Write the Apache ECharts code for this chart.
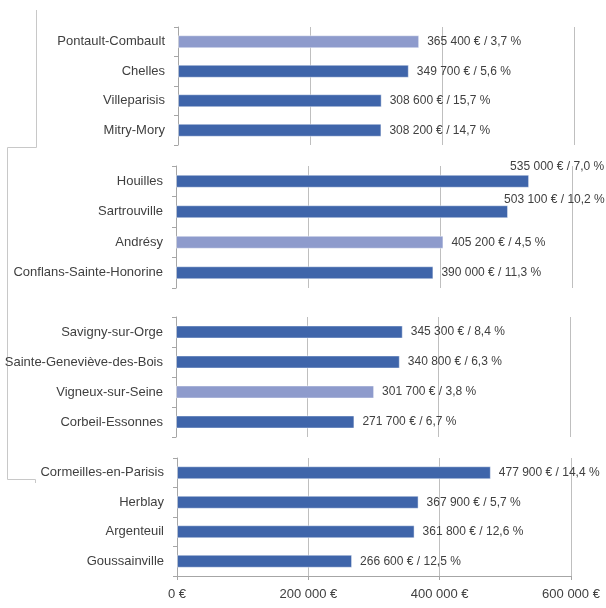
<!DOCTYPE html>
<html>
<head>
<meta charset="utf-8">
<script src="https://cdn.jsdelivr.net/npm/echarts@6/dist/echarts.min.js"></script>
<style>
html,body{margin:0;padding:0;background:#fff;}
#chart{width:606px;height:608px;}
</style>
</head>
<body>
<div id="chart"></div>
<script>
// ---- Data ----
const cities1 = ['Pontault-Combault', 'Chelles', 'Villeparisis', 'Mitry-Mory'];
const prices1 = [365400, 349700, 308600, 308200];
const rates1 = [3.7, 5.6, 15.7, 14.7];

const cities2 = ['Houilles', 'Sartrouville', 'Andrésy', 'Conflans-Sainte-Honorine'];
const prices2 = [535000, 503100, 405200, 390000];
const rates2 = [7.0, 10.2, 4.5, 11.3];

const cities3 = ['Savigny-sur-Orge', 'Sainte-Geneviève-des-Bois', 'Vigneux-sur-Seine', 'Corbeil-Essonnes'];
const prices3 = [345300, 340800, 301700, 271700];
const rates3 = [8.4, 6.3, 3.8, 6.7];

const cities4 = ['Cormeilles-en-Parisis', 'Herblay', 'Argenteuil', 'Goussainville'];
const prices4 = [477900, 367900, 361800, 266600];
const rates4 = [14.4, 5.7, 12.6, 12.5];

const highlighted = ['Pontault-Combault', 'Andrésy', 'Vigneux-sur-Seine'];
const xTicks = [0, 200000, 400000, 600000];

// ---- Styles ----
const FONT = 'Liberation Sans, Arial, sans-serif';
const TXT = '#404040';
const DARK = '#3F65AA';
const LIGHT = '#8E9BCC';
const GRID = '#BFBFBF';
const AXIS = '#A6A6A6';

function fmtNum(v) {
  return String(v).replace(/\B(?=(\d{3})+(?!\d))/g, '\u00a0');
}
function fmtRate(r) {
  return r.toFixed(1).replace('.', ',');
}

const panels = [
  { cities: cities1, prices: prices1, rates: rates1, left: 178, right: 32, top: 27, height: 118 },
  { cities: cities2, prices: prices2, rates: rates2, left: 176, right: 34, top: 166, height: 122 },
  { cities: cities3, prices: prices3, rates: rates3, left: 176, right: 36, top: 317, height: 120 },
  { cities: cities4, prices: prices4, rates: rates4, left: 177, right: 35, top: 458, height: 118 }
];

// label offsets for labels that would overflow the plot (placed above-left)
const labelShift = { 'Houilles': [-27, -15], 'Sartrouville': [-12, -12] };

const grid = [], xAxis = [], yAxis = [], series = [];
panels.forEach((p, i) => {
  const last = i === panels.length - 1;
  grid.push({ left: p.left, right: p.right, top: p.top, height: p.height, containLabel: false });
  xAxis.push({
    type: 'value', gridIndex: i, min: xTicks[0], max: xTicks[xTicks.length - 1],
    interval: xTicks[1] - xTicks[0],
    axisLine: { show: last, lineStyle: { color: AXIS, width: 1 } },
    axisTick: { show: last, length: 4, lineStyle: { color: AXIS } },
    axisLabel: {
      show: last, color: TXT, fontFamily: FONT, fontSize: 13, margin: 12,
      formatter: v => fmtNum(v) + ' €'
    },
    splitLine: { show: true, lineStyle: { color: GRID, width: 1 } }
  });
  yAxis.push({
    type: 'category', gridIndex: i, data: p.cities, inverse: true,
    axisLine: { show: true, lineStyle: { color: AXIS, width: 1 } },
    axisTick: { show: true, length: 4, lineStyle: { color: AXIS } },
    axisLabel: { color: TXT, fontFamily: FONT, fontSize: 13, margin: 13 },
    splitLine: { show: false }
  });
  series.push({
    type: 'bar', xAxisIndex: i, yAxisIndex: i, barWidth: 13,
    data: p.prices.map((v, k) => {
      const name = p.cities[k];
      const item = {
        value: v,
        itemStyle: { color: highlighted.includes(name) ? LIGHT : DARK }
      };
      if (labelShift[name]) item.label = { offset: labelShift[name] };
      return item;
    }),
    itemStyle: { borderColor: 'rgba(255,255,255,0.45)', borderWidth: 1 },
    label: {
      show: true, position: 'right', distance: 8,
      color: TXT, fontFamily: FONT, fontSize: 12,
      formatter: params => fmtNum(params.value) + ' € / ' + fmtRate(p.rates[params.dataIndex]) + ' %'
    },
    silent: true, animation: false
  });
});

const chart = echarts.init(document.getElementById('chart'), null, { renderer: 'canvas' });
chart.setOption({
  backgroundColor: '#ffffff',
  animation: false,
  grid, xAxis, yAxis, series,
  graphic: [{
    type: 'polyline',
    shape: { points: [[36.5, 10], [36.5, 147.5], [7.5, 147.5], [7.5, 479.5], [35.5, 479.5], [35.5, 483]] },
    style: { stroke: '#C8C8C8', lineWidth: 1, fill: null },
    silent: true
  }]
});
</script>
</body>
</html>
